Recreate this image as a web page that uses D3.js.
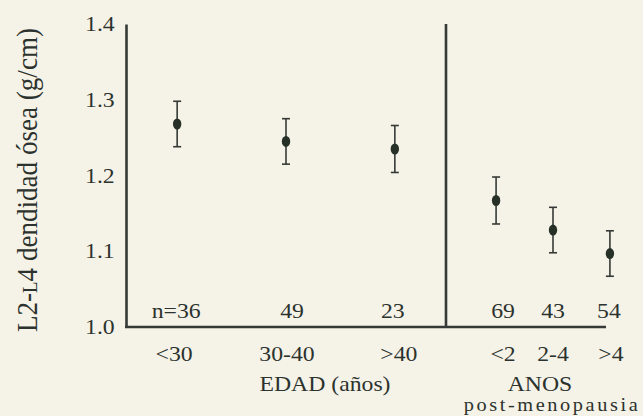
<!DOCTYPE html>
<html lang="es">
<head>
  <meta charset="UTF-8" />
  <title>Densidad ósea L2-L4</title>
  <script src="https://d3js.org/d3.v7.min.js"></script>
  <style>
    body { margin: 0; background: #f5f2e8; }
    svg { display: block; }
    text { font-family: "Liberation Serif", "Times New Roman", "DejaVu Serif", serif; fill: #2c322d; }
  </style>
</head>
<body>
  <svg id="chart" width="643" height="416"></svg>
  <script>
    // age groups (EDAD) and post-menopause years (ANOS)
    const edadCats = ['<30', '30-40', '>40'];
    const edadMean = [1.268, 1.245, 1.235];
    const edadErr  = [0.030, 0.030, 0.031];
    const edadN    = ['n=36', '49', '23'];

    const anosCats = ['<2', '2-4', '>4'];
    const anosMean = [1.167, 1.128, 1.097];
    const anosErr  = [0.031, 0.030, 0.030];
    const anosN    = ['69', '43', '54'];

    const yTicks = [1.0, 1.1, 1.2, 1.3, 1.4];

    const svg = d3.select('#chart');
    const ink = '#363a36';
    const stretch = 1.13; // the printed type is a bit wide
    const mLeft = 126, mMid = 446, mRight = 606, mTop = 24, mBottom = 327;

    svg.append('rect').attr('width', 643).attr('height', 416).attr('fill', '#f5f2e8');

    const y = d3.scaleLinear().domain([1.0, 1.4]).range([mBottom, mTop]);
    const xEdad = d3.scalePoint().domain(edadCats).range([mLeft, mMid]).padding(0.47);
    const xAnos = d3.scalePoint().domain(anosCats).range([mMid, 660]).padding(0.88);

    function label(x, yy, txt, size) {
      return svg.append('text')
        .attr('transform', `translate(${x},${yy}) scale(${stretch},1)`)
        .attr('text-anchor', 'middle').attr('font-size', size || 21).text(txt);
    }

    // axes frame
    const yAxis = d3.axisLeft(y).tickValues(yTicks).tickFormat(d3.format('.1f')).tickSize(0).tickPadding(10);
    const gy = svg.append('g').attr('transform', `translate(${mLeft},0)`).call(yAxis);
    gy.select('.domain').attr('stroke', ink).attr('stroke-width', 2.6);
    gy.selectAll('text').attr('font-size', 21).attr('font-family', null).attr('fill', null)
      .attr('transform', `scale(${stretch},1)`);
    gy.attr('font-family', null);

    svg.append('line').attr('x1', mLeft - 1).attr('x2', mRight).attr('y1', mBottom).attr('y2', mBottom)
      .attr('stroke', ink).attr('stroke-width', 2.6);
    svg.append('line').attr('x1', mMid).attr('x2', mMid).attr('y1', mTop).attr('y2', mBottom)
      .attr('stroke', ink).attr('stroke-width', 2.6);

    function drawGroup(cats, means, errs, ns, x, nShift, catShift) {
      const data = cats.map((c, i) => ({ c, m: means[i], e: errs[i], n: ns[i] }));
      const g = svg.append('g');
      const pt = g.selectAll('g.pt').data(data).join('g').attr('class', 'pt');
      pt.append('line').attr('x1', d => x(d.c)).attr('x2', d => x(d.c))
        .attr('y1', d => y(d.m + d.e)).attr('y2', d => y(d.m - d.e))
        .attr('stroke', ink).attr('stroke-width', 1.6);
      pt.append('line').attr('x1', d => x(d.c) - 4).attr('x2', d => x(d.c) + 4)
        .attr('y1', d => y(d.m + d.e)).attr('y2', d => y(d.m + d.e))
        .attr('stroke', ink).attr('stroke-width', 1.6);
      pt.append('line').attr('x1', d => x(d.c) - 4).attr('x2', d => x(d.c) + 4)
        .attr('y1', d => y(d.m - d.e)).attr('y2', d => y(d.m - d.e))
        .attr('stroke', ink).attr('stroke-width', 1.6);
      pt.append('ellipse').attr('cx', d => x(d.c)).attr('cy', d => y(d.m))
        .attr('rx', 4.2).attr('ry', 5.5).attr('fill', '#263026');
      data.forEach((d, i) => {
        label(x(d.c) + nShift[i], mBottom - 9, d.n);
        label(x(d.c) + catShift[i], 361, d.c);
      });
    }

    drawGroup(edadCats, edadMean, edadErr, edadN, xEdad, [-1, 6, -2], [-3, 1, 4]);
    drawGroup(anosCats, anosMean, anosErr, anosN, xAnos, [7, 0, -1], [7, 0, 1]);

    label(325, 391, 'EDAD (años)');
    label(540, 391, 'ANOS');
    label(552, 411, 'post-menopausia', 18).attr('letter-spacing', 2.3);

    const yl = svg.append('text')
      .attr('transform', `translate(37,180) scale(${stretch},1) rotate(-90)`)
      .attr('text-anchor', 'middle').attr('font-size', 26)
      .attr('textLength', 304).attr('lengthAdjust', 'spacingAndGlyphs');
    yl.append('tspan').text('L2-');
    yl.append('tspan').attr('font-size', 18).text('L');
    yl.append('tspan').text('4 dendidad ósea (g/cm)');
  </script>
</body>
</html>
